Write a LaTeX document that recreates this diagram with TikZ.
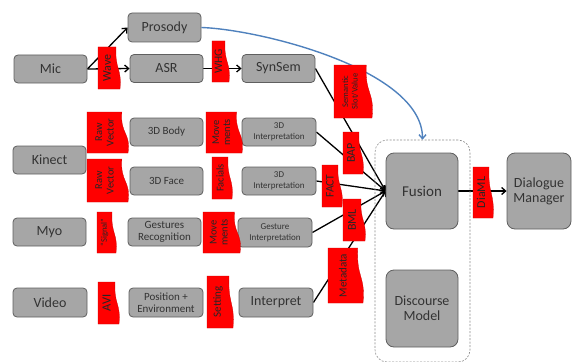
\documentclass[tikz,border=0pt]{standalone}
\usepackage{fontspec}
\setmainfont{Carlito}
\usetikzlibrary{arrows.meta,backgrounds}
\definecolor{boxgray}{RGB}{166,166,166}
\definecolor{boxedge}{RGB}{95,95,95}
\definecolor{flagred}{RGB}{255,0,0}
\definecolor{arcblue}{RGB}{79,129,189}
\newcommand\redflag[8]{%
  \pgfmathsetmacro\fw{#4-#2}%
  \pgfmathsetmacro\fh{#5-#3}%
  \pgfmathsetmacro\fd{max(4,0.15*\fw)}%
  \path[flagfill] (#2,#3) -- ({#4-\fd},#3)
    .. controls ({#4-1.3*\fd},{#3+0.55*\fh}) and ({#4+0.5*\fd},{#3+0.5*\fh}) .. (#4,#5)
    -- (#2,#5) -- cycle;
  \node[flagtext, rotate=90, font=\fontsize{#6}{#7}\selectfont] (#1)
    at ({(#2+#4-\fd)/2},{(#3+#5)/2}) {#8};%
}
\begin{document}
\begin{tikzpicture}[x=1pt,y=-1pt,
  box/.style={draw=boxedge, fill=boxgray, rounded corners=4pt, line width=0.8pt,
    minimum width=73pt, minimum height=28pt, inner sep=1pt, text=black!80,
    align=center, font=\fontsize{14}{15}\selectfont},
  midbox/.style={box, font=\fontsize{11}{12.5}\selectfont},
  smallbox/.style={box, font=\fontsize{9}{11}\selectfont},
  bigbox/.style={box, minimum width=72pt, minimum height=76pt, rounded corners=8pt},
  flagfill/.style={fill=flagred, draw=red!80!black, line width=0.3pt},
  flagtext/.style={inner sep=0pt, text=black!85, align=center},
  zonebox/.style={draw=gray!90, dash pattern=on 2pt off 1.5pt, line width=0.6pt,
    rounded corners=12pt, minimum width=95pt, minimum height=222pt},
  link/.style={line width=1.3pt, draw=black, -{Straight Barb[length=4pt,width=7pt,line width=1.3pt]}},
  bluearc/.style={line width=1.4pt, draw=arcblue, -{Straight Barb[length=4pt,width=7pt,line width=1.4pt]}}
]
\useasboundingbox (0,0) rectangle (572,361);

% container
\node[zonebox] (zone) at (422.5,251) {};

% boxes
\node[box] (mic) at (50.5,69) {Mic};
\node[box, minimum height=29pt] (prosody) at (164.5,27.5) {Prosody};
\node[box] (asr) at (166.5,68.5) {ASR};
\node[box] (synsem) at (278.5,68.5) {SynSem};

\node[box] (kinect) at (49.5,160) {Kinect};
\node[midbox] (body3d) at (166.5,132) {3D Body};
\node[smallbox, minimum width=74pt] (interpA) at (279,132) {3D\\Interpretation};
\node[midbox] (face3d) at (166.5,181) {3D Face};
\node[smallbox, minimum width=74pt] (interpB) at (279,181) {3D\\Interpretation};

\node[box] (myo) at (49.5,232) {Myo};
\node[midbox] (gestrec) at (164.5,232) {Gestures\\Recognition};
\node[smallbox, minimum width=74pt, minimum height=29pt] (gestint) at (275,232.5) {Gesture\\Interpretation};

\node[box, minimum width=74pt, minimum height=29pt] (video) at (50,302.5) {Video};
\node[midbox, minimum width=74pt, minimum height=29pt] (posenv) at (166,302.5) {Position +\\Environment};
\node[box, minimum width=74pt, minimum height=29pt] (interpret) at (276,302.5) {Interpret};

\node[bigbox, font=\fontsize{15}{16}\selectfont] (fusion) at (422,191) {Fusion};
\node[bigbox, minimum height=77pt] (discourse) at (422,308.5) {Discourse\\Model};
\node[bigbox, minimum width=64pt] (dm) at (539,191) {Dialogue\\Manager};

% connectors
\begin{scope}[on background layer]
\draw[link] (mic.east) -- (prosody.west);
\draw[link] (mic.east) -- (asr.west);
\draw[link] (asr.east) -- (synsem.west);
\draw[link] (synsem.east) -- (fusion.west);
\draw[link] (interpA.east) -- (fusion.west);
\draw[link] (interpB.east) -- (fusion.west);
\draw[link] (gestint.east) -- (fusion.west);
\draw[link] (interpret.east) -- (fusion.west);
\draw[link] (fusion.east) -- (dm.west);
\end{scope}
\draw[bluearc] (prosody.east) .. controls +(59,2) and +(0,-70) .. (zone.north);

% red labels
\redflag{wave}{98}{47}{120}{89}{12}{13}{Wave}
\redflag{whg}{212}{41}{229}{82}{11.5}{13}{WHG}
\redflag{semslot}{334}{65}{372}{118}{8.5}{9.5}{Semantic\\Slot/Value}
\redflag{bap}{343}{132}{363}{174}{12}{13}{BAP}
\redflag{fact}{322}{165}{342}{207}{11.5}{13}{FACT}
\redflag{bml}{343}{199}{365}{241}{12}{13}{BML}
\redflag{metadata}{328}{248}{363}{303}{11}{12}{Metadata}
\redflag{rawA}{87}{112}{128}{153}{10.5}{11.5}{Raw\\Vector}
\redflag{moveA}{206}{112}{242}{153}{10.5}{11}{Move\\ments}
\redflag{rawB}{87}{159}{128}{202}{10.5}{11.5}{Raw\\Vector}
\redflag{facials}{212}{157}{232}{199}{10.5}{12}{Facials}
\redflag{signal}{97}{212}{116}{253}{8.5}{10}{“Signal”}
\redflag{moveB}{203}{212}{240}{253}{10.5}{11}{Move\\ments}
\redflag{avi}{98}{282}{119}{324}{12.5}{13}{AVI}
\redflag{setting}{207}{276}{233}{328}{11}{12}{Setting}
\redflag{diaml}{473}{167}{493}{218}{12}{13}{DiaML}
\end{tikzpicture}
\end{document}
